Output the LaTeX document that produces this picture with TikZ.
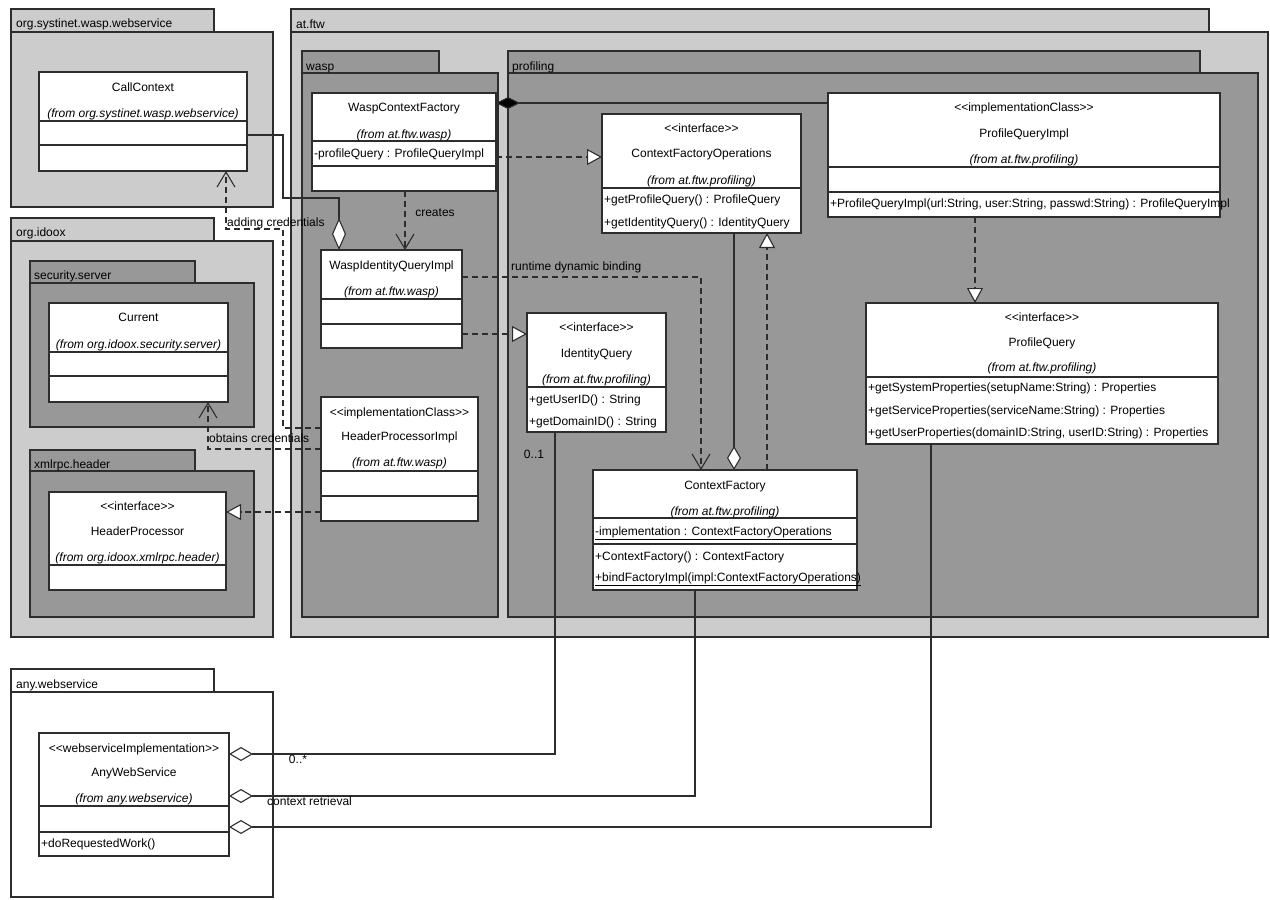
\documentclass[tikz,border=0pt]{standalone}
\usepackage{fontspec}
\setmainfont{Liberation Sans}
\usetikzlibrary{arrows.meta}
\definecolor{pkgLight}{RGB}{204,204,204}
\definecolor{pkgDark}{RGB}{152,152,152}
\definecolor{lineC}{RGB}{45,45,45}
\newcommand\fs{\fontsize{12}{14}\selectfont}
\newcommand\ubox[6][]{\node[#1, anchor=north west, inner sep=0pt, outer sep=0pt, minimum width={(#5-#3)*1pt}, minimum height={(#6-#4)*1pt}] (#2) at (#3,#4) {};}
\newcommand\hsep[2]{\draw[sepline] (#1.west |- 0,#2) -- (#1.east |- 0,#2);}
\tikzset{
  pkgline/.style={draw=lineC, line width=1.2pt},
  lightpkg/.style={pkgline, fill=pkgLight},
  darkpkg/.style={pkgline, fill=pkgDark},
  whitepkg/.style={pkgline, fill=white},
  clsbox/.style={draw=lineC, line width=1.3pt, fill=white},
  sepline/.style={draw=lineC, line width=1.1pt},
  txt/.style={inner sep=0pt, font=\fs, text height=9pt, text depth=3pt},
  ital/.style={txt, font=\fs\itshape},
  lft/.style={txt, anchor=west},
  conn/.style={draw=lineC, line width=1.1pt},
  dep/.style={conn, dash pattern=on 6pt off 4pt, -{Straight Barb[length=15pt,width=18pt,line width=1.1pt]}},
  real/.style={conn, dash pattern=on 6pt off 4pt, -{Triangle[fill=white,length=15pt,width=16pt,line width=1.1pt]}},
  aggr/.style={conn, -{Diamond[fill=white,length=24pt,width=14pt,line width=1.1pt]}},
  longaggr/.style={conn, -{Diamond[fill=white,length=32pt,width=14pt,line width=1.1pt]}},
  comp/.style={conn, -{Diamond[fill=black,length=24pt,width=12pt]}},
}
\begin{document}
\begin{tikzpicture}[x=1pt,y=-1pt]
\useasboundingbox (0,0) rectangle (1270,900);
\fill[white] (0,0) rectangle (1270,900);

% ---------- packages ----------
\ubox[lightpkg]{p1tab}{11}{9}{214}{32}
\ubox[lightpkg]{p1}{11}{32}{273}{207}
\node[lft] (p1lab) at (16,24) {org.systinet.wasp.webservice};

\ubox[lightpkg]{p2tab}{11}{218}{214}{241}
\ubox[lightpkg]{p2}{11}{241}{273}{637}
\node[lft] (p2lab) at (16,233) {org.idoox};

\ubox[darkpkg]{p2atab}{30}{261}{195}{283}
\ubox[darkpkg]{p2a}{30}{283}{254}{427}
\node[lft] (p2alab) at (34,276) {security.server};

\ubox[darkpkg]{p2btab}{30}{450}{195}{471}
\ubox[darkpkg]{p2b}{30}{471}{254}{617}
\node[lft] (p2blab) at (34,465) {xmlrpc.header};

\ubox[lightpkg]{p3tab}{291}{9}{1209}{32}
\ubox[lightpkg]{p3}{291}{32}{1268}{637}
\node[lft] (p3lab) at (296,25) {at.ftw};

\ubox[darkpkg]{p3atab}{302}{51}{439}{73}
\ubox[darkpkg]{p3a}{302}{73}{498}{617}
\node[lft] (p3alab) at (306,67) {wasp};

\ubox[darkpkg]{p3btab}{508}{51}{1200}{73}
\ubox[darkpkg]{p3b}{508}{73}{1258}{617}
\node[lft] (p3blab) at (512,67) {profiling};

\ubox[whitepkg]{p4tab}{11}{669}{214}{692}
\ubox[whitepkg]{p4}{11}{692}{273}{897}
\node[lft] (p4lab) at (16,685) {any.webservice};

% ---------- classes ----------
% CallContext
\ubox[clsbox]{cc}{39}{72}{247}{171}
\hsep{cc}{121}\hsep{cc}{145}
\node[txt] (cct) at (143,88) {CallContext};
\node[ital] (ccf) at (143,114) {(from org.systinet.wasp.webservice)};

% Current
\ubox[clsbox]{cur}{49}{303}{228}{402}
\hsep{cur}{352}\hsep{cur}{376}
\node[txt] (curt) at (138.5,318) {Current};
\node[ital] (curf) at (138.5,345) {(from org.idoox.security.server)};

% HeaderProcessor
\ubox[clsbox]{hp}{49}{492}{226}{590}
\hsep{hp}{565}
\node[txt] (hps) at (137.5,507) {<{}<interface>{}>};
\node[txt] (hpt) at (137.5,532) {HeaderProcessor};
\node[ital] (hpf) at (137.5,558) {(from org.idoox.xmlrpc.header)};

% WaspContextFactory
\ubox[clsbox]{wcf}{312}{93}{496}{191}
\hsep{wcf}{141}\hsep{wcf}{166}
\node[txt] (wcft) at (404,108) {WaspContextFactory};
\node[ital] (wcff) at (404,135) {(from at.ftw.wasp)};
\node[lft] (wcfa) at (314,154) {-profileQuery : ProfileQueryImpl};

% WaspIdentityQueryImpl
\ubox[clsbox]{wiqi}{321}{250}{462}{348}
\hsep{wiqi}{299}\hsep{wiqi}{324}
\node[txt] (wiqit) at (391.5,266) {WaspIdentityQueryImpl};
\node[ital] (wiqif) at (391.5,292) {(from at.ftw.wasp)};

% HeaderProcessorImpl
\ubox[clsbox]{hpi}{321}{397}{478}{521}
\hsep{hpi}{471}\hsep{hpi}{496}
\node[txt] (hpis) at (399.5,413) {<{}<implementationClass>{}>};
\node[txt] (hpit) at (399.5,437) {HeaderProcessorImpl};
\node[ital] (hpif) at (399.5,463) {(from at.ftw.wasp)};

% ContextFactoryOperations
\ubox[clsbox]{cfo}{602}{114}{801}{233}
\hsep{cfo}{188}
\node[txt] (cfos) at (701.5,129) {<{}<interface>{}>};
\node[txt] (cfot) at (701.5,154) {ContextFactoryOperations};
\node[ital] (cfof) at (701.5,181) {(from at.ftw.profiling)};
\node[lft] (cfom1) at (604,200) {+getProfileQuery() : ProfileQuery};
\node[lft] (cfom2) at (604,223) {+getIdentityQuery() : IdentityQuery};

% ProfileQueryImpl
\ubox[clsbox]{pqi}{828}{93}{1220}{217}
\hsep{pqi}{167}\hsep{pqi}{192}
\node[txt] (pqis) at (1024,108) {<{}<implementationClass>{}>};
\node[txt] (pqit) at (1024,134) {ProfileQueryImpl};
\node[ital] (pqif) at (1024,160) {(from at.ftw.profiling)};
\node[lft] (pqim) at (830,204) {+ProfileQueryImpl(url:String, user:String, passwd:String) : ProfileQueryImpl};

% IdentityQuery
\ubox[clsbox]{iq}{527}{313}{666}{432}
\hsep{iq}{387}
\node[txt] (iqs) at (596.5,328) {<{}<interface>{}>};
\node[txt] (iqt) at (596.5,354) {IdentityQuery};
\node[ital] (iqf) at (596.5,380) {(from at.ftw.profiling)};
\node[lft] (iqm1) at (529,400) {+getUserID() : String};
\node[lft] (iqm2) at (529,422) {+getDomainID() : String};

% ProfileQuery
\ubox[clsbox]{pq}{866}{303}{1218}{444}
\hsep{pq}{377}
\node[txt] (pqs) at (1042,318) {<{}<interface>{}>};
\node[txt] (pqt) at (1042,343) {ProfileQuery};
\node[ital] (pqf) at (1042,368) {(from at.ftw.profiling)};
\node[lft] (pqm1) at (868,388) {+getSystemProperties(setupName:String) : Properties};
\node[lft] (pqm2) at (868,411) {+getServiceProperties(serviceName:String) : Properties};
\node[lft] (pqm3) at (868,433) {+getUserProperties(domainID:String, userID:String) : Properties};

% ContextFactory
\ubox[clsbox]{cf}{593}{470}{857}{590}
\hsep{cf}{518}\hsep{cf}{544}
\node[txt] (cft) at (725,486) {ContextFactory};
\node[ital] (cff) at (725,512) {(from at.ftw.profiling)};
\node[lft] (cfa) at (595,532) {\underline{-implementation : ContextFactoryOperations}};
\node[lft] (cfm1) at (595,557) {+ContextFactory() : ContextFactory};
\node[lft] (cfm2) at (595,578) {\underline{+bindFactoryImpl(impl:ContextFactoryOperations)}};

% AnyWebService
\ubox[clsbox]{aws}{39}{733}{229}{856}
\hsep{aws}{806}\hsep{aws}{832}
\node[txt] (awss) at (134,749) {<{}<webserviceImplementation>{}>};
\node[txt] (awst) at (134,773) {AnyWebService};
\node[ital] (awsf) at (134,799) {(from any.webservice)};
\node[lft] (awsm) at (41,844) {+doRequestedWork()};

% ---------- connectors ----------
\draw[longaggr] (cc.east |- 0,135) -- (283,135) -- (283,198) -- (339,198) -- (wiqi.north -| 339,0);
\draw[dep] (hpi.west |- 0,428) -- (283,428) -- (283,229) -- (226,229) -- (cc.south -| 226,0);
\node[txt, anchor=base west] (addlab) at (227,226) {adding credentials};
\draw[dep] (hpi.west |- 0,449) -- (208,449) -- (cur.south -| 208,0);
\node[txt, anchor=base west] (oblab) at (209,442) {obtains credentials};
\draw[real] (hpi.west |- 0,512) -- (hp.east |- 0,512);

\draw[dep] (wcf.south -| 405,0) -- (wiqi.north -| 405,0);
\node[txt] (crlab) at (435,213) {creates};
\draw[real] (wcf.east |- 0,157) -- (cfo.west |- 0,157);
\draw[comp] (pqi.west |- 0,103) -- (wcf.east |- 0,103);
\draw[real] (wiqi.east |- 0,334) -- (iq.west |- 0,334);
\draw[dep] (wiqi.east |- 0,277) -- (701,277) -- (cf.north -| 701,0);
\node[lft] (rtlab) at (511,267) {runtime dynamic binding};

\draw[real] (pqi.south -| 975,0) -- (pq.north -| 975,0);
\draw[real] (cf.north -| 767,0) -- (cfo.south -| 767,0);
\draw[aggr] (cfo.south -| 734,0) -- (cf.north -| 734,0);

\draw[aggr] (iq.south -| 555,0) -- (555,754) -- (aws.east |- 0,754);
\node[txt] (m01) at (534,455) {0..1};
\node[txt] (m0s) at (298,760) {0..*};
\draw[aggr] (cf.south -| 695,0) -- (695,796) -- (aws.east |- 0,796);
\node[lft] (ctxlab) at (267,802) {context retrieval};
\draw[aggr] (pq.south -| 931,0) -- (931,827) -- (aws.east |- 0,827);
\end{tikzpicture}
\end{document}
